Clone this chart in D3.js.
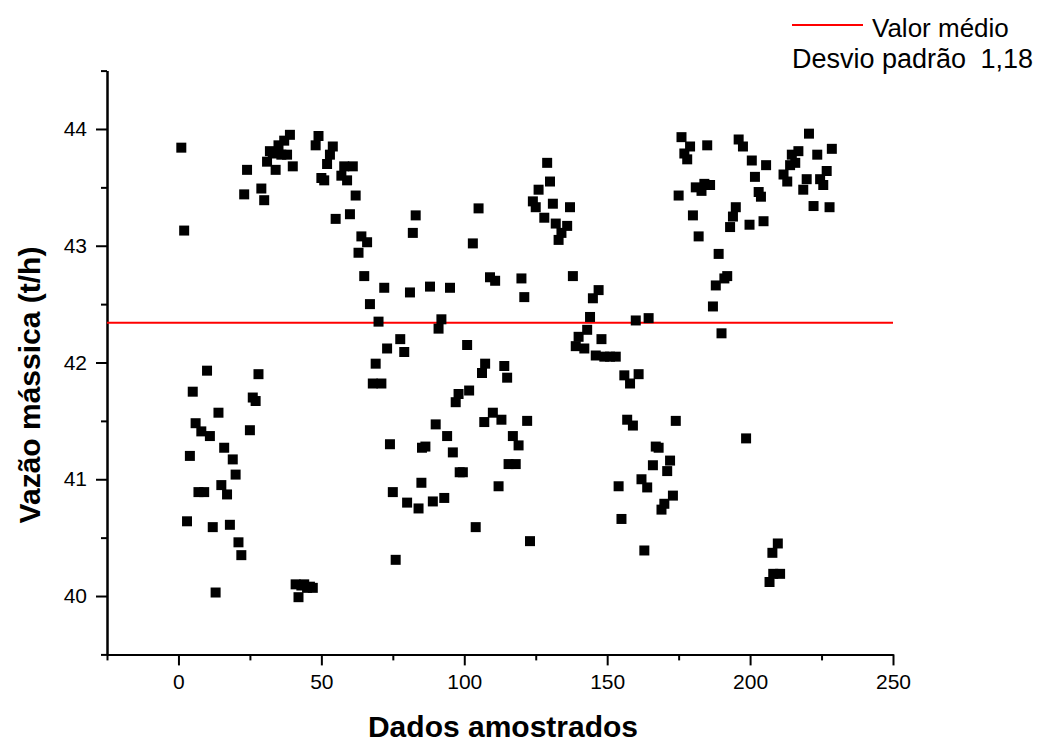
<!DOCTYPE html>
<html>
<head>
<meta charset="utf-8">
<script src="https://cdn.jsdelivr.net/npm/d3@7/dist/d3.min.js"></script>
<style>
  html, body { margin: 0; padding: 0; background: #fff; }
  svg { display: block; font-family: "Liberation Sans", Arial, sans-serif; }
</style>
</head>
<body>
<svg id="chart" width="1037" height="742"></svg>
<script>
// Sample number (x) of each measurement
const sampleIndex = [
  1, 2, 3, 4, 5, 6, 7, 8, 9, 10,
  11, 12, 13, 14, 15, 16, 17, 18, 19, 20,
  21, 22, 23, 24, 25, 26, 27, 28, 29, 30,
  31, 32, 33, 34, 35, 36, 37, 38, 39, 40,
  41, 42, 43, 44, 45, 46, 47, 48, 49, 50,
  51, 52, 53, 54, 55, 57, 58, 59, 60, 61,
  62, 63, 64, 65, 66, 67, 68, 69, 70, 71,
  72, 73, 74, 75, 76, 77.6, 79, 80, 81, 82,
  83, 84, 85, 85.2, 86.4, 88, 89, 90, 91, 92,
  93, 94, 95, 96, 97, 98, 98.4, 99.5, 101, 101.7,
  103, 104, 105, 106.2, 107, 107.3, 109, 110, 110.8, 112,
  113, 114, 115, 115.5, 117, 118, 119, 120, 121, 122,
  123, 124, 125, 126, 128, 129, 130, 131, 132, 133,
  134, 136, 137, 138, 139, 140, 142, 143, 144, 145,
  146, 147, 148, 149, 151, 153, 154, 155, 156, 157,
  158, 159, 160, 161, 162, 163, 164, 164.5, 166, 167,
  168, 169, 170, 171, 172, 173, 174, 175, 176, 177,
  178, 179, 180, 181, 182, 183, 184, 185, 186, 187,
  188, 189, 190, 191, 192, 193, 194, 195, 196, 197.5,
  198.6, 199.8, 200.6, 201.7, 203, 203.8, 204.7, 205.6, 206.8, 207.8,
  208.1, 209.7, 210.5, 211.7, 213, 214, 214.6, 215.8, 216.9, 218.6,
  219.8, 220.6, 222.2, 223.5, 224.5, 225.6, 226.8, 227.8, 228.6
];

// Mass flow rate (t/h) of each measurement
const massFlow = [
  43.84, 43.13, 40.64, 41.20, 41.75, 41.48, 40.89, 41.41, 40.89, 41.93,
  41.37, 40.59, 40.03, 41.57, 40.95, 41.27, 40.87, 40.61, 41.17, 41.04,
  40.46, 40.35, 43.44, 43.65, 41.42, 41.70, 41.67, 41.90, 43.49, 43.39,
  43.72, 43.81, 43.79, 43.65, 43.86, 43.78, 43.90, 43.78, 43.95, 43.68,
  40.10, 39.99, 40.09, 40.10, 40.07, 40.08, 40.07, 43.86, 43.94, 43.58,
  43.56, 43.70, 43.78, 43.85, 43.23, 43.60, 43.68, 43.56, 43.27, 43.68,
  43.43, 42.94, 43.08, 42.74, 43.03, 42.50, 41.82, 41.99, 42.35, 41.82,
  42.64, 42.12, 41.30, 40.89, 40.31, 42.20, 42.09, 40.80, 42.60, 43.11,
  43.26, 40.75, 40.97, 41.27, 41.28, 42.65, 40.81, 41.47, 42.29, 42.37,
  40.84, 41.37, 42.64, 41.23, 41.66, 41.73, 41.06, 41.06, 42.15, 41.76,
  43.02, 40.59, 43.32, 41.91, 41.49, 41.99, 42.73, 41.57, 42.70, 40.94,
  41.51, 41.97, 41.87, 41.13, 41.37, 41.13, 41.29, 42.72, 42.56, 41.50,
  40.47, 43.38, 43.33, 43.48, 43.24, 43.71, 43.55, 43.36, 43.19, 43.05,
  43.11, 43.17, 43.33, 42.74, 42.14, 42.22, 42.12, 42.28, 42.39, 42.55,
  42.06, 42.62, 42.20, 42.05, 42.05, 42.05, 40.94, 40.66, 41.89, 41.51,
  41.82, 41.46, 42.36, 41.90, 41.00, 40.39, 40.93, 42.38, 41.12, 41.28,
  41.27, 40.74, 40.79, 41.07, 41.16, 40.86, 41.50, 43.43, 43.93, 43.79,
  43.74, 43.85, 43.26, 43.50, 43.08, 43.47, 43.53, 43.86, 43.52, 42.48,
  42.66, 42.93, 42.25, 42.72, 42.74, 43.16, 43.25, 43.33, 43.91, 43.85,
  41.35, 43.18, 43.73, 43.59, 43.46, 43.42, 43.21, 43.69, 40.12, 40.37,
  40.19, 40.45, 40.19, 43.61, 43.55, 43.69, 43.78, 43.71, 43.81, 43.48,
  43.57, 43.96, 43.34, 43.78, 43.57, 43.52, 43.64, 43.33, 43.83
];

const meanValue = 42.34;
const stdDevLabel = "1,18";

const xMajorTicks = [0, 50, 100, 150, 200, 250];
const xMinorTicks = [-25, 25, 75, 125, 175, 225];
const yMajorTicks = [40, 41, 42, 43, 44];
const yMinorTicks = [39.5, 40.5, 41.5, 42.5, 43.5, 44.5];

const svg = d3.select("#chart");
const plotLeft = 107, plotRight = 893, plotTop = 70.6, plotBottom = 654.4;

const x = d3.scaleLinear().domain([-25, 250]).range([plotLeft, plotRight]);
const y = d3.scaleLinear().domain([39.5, 44.5]).range([plotBottom, plotTop]);

const styleAxis = g => {
  g.selectAll("path, line").attr("stroke", "#000").attr("stroke-width", 2);
  g.selectAll("text").attr("fill", "#000").attr("font-size", 21)
    .attr("font-family", "'Liberation Sans', Arial, sans-serif");
};

// minor ticks
svg.append("g").attr("transform", `translate(0,${plotBottom})`)
  .call(d3.axisBottom(x).tickValues(xMinorTicks).tickSize(6).tickSizeOuter(0).tickFormat(""))
  .call(styleAxis);
svg.append("g").attr("transform", `translate(${plotLeft},0)`)
  .call(d3.axisLeft(y).tickValues(yMinorTicks).tickSize(6).tickSizeOuter(0).tickFormat(""))
  .call(styleAxis);

// major ticks with labels
svg.append("g").attr("transform", `translate(0,${plotBottom})`)
  .call(d3.axisBottom(x).tickValues(xMajorTicks).tickSize(11).tickPadding(9).tickSizeOuter(0).tickFormat(d3.format("d")))
  .call(styleAxis);
svg.append("g").attr("transform", `translate(${plotLeft},0)`)
  .call(d3.axisLeft(y).tickValues(yMajorTicks).tickSize(11).tickPadding(9).tickSizeOuter(0).tickFormat(d3.format("d")))
  .call(styleAxis);

// mean line
svg.append("line")
  .attr("x1", x.range()[0]).attr("x2", x.range()[1])
  .attr("y1", y(meanValue)).attr("y2", y(meanValue))
  .attr("stroke", "#ff0000").attr("stroke-width", 2);

// measurements
const square = d3.symbol().type(d3.symbolSquare).size(100);
svg.append("g").selectAll("path")
  .data(sampleIndex.map((s, i) => [s, massFlow[i]]))
  .join("path")
  .attr("d", square)
  .attr("transform", d => `translate(${x(d[0])},${y(d[1])})`)
  .attr("fill", "#000");

// axis titles
svg.append("text")
  .attr("x", 503).attr("y", 737)
  .attr("text-anchor", "middle")
  .attr("font-size", 30).attr("font-weight", "bold")
  .text("Dados amostrados");

svg.append("text")
  .attr("transform", "translate(40,385) rotate(-90)")
  .attr("text-anchor", "middle")
  .attr("font-size", 30).attr("font-weight", "bold")
  .text("Vazão mássica (t/h)");

// legend
svg.append("line")
  .attr("x1", 792).attr("x2", 863).attr("y1", 25).attr("y2", 25)
  .attr("stroke", "#ff0000").attr("stroke-width", 2);
svg.append("text")
  .attr("x", 872).attr("y", 37)
  .attr("font-size", 26)
  .text("Valor médio");
svg.append("text")
  .attr("x", 792).attr("y", 68)
  .attr("font-size", 27)
  .text("Desvio padrão");
svg.append("text")
  .attr("x", 1033).attr("y", 68)
  .attr("text-anchor", "end")
  .attr("font-size", 27)
  .text(stdDevLabel);
</script>
</body>
</html>
